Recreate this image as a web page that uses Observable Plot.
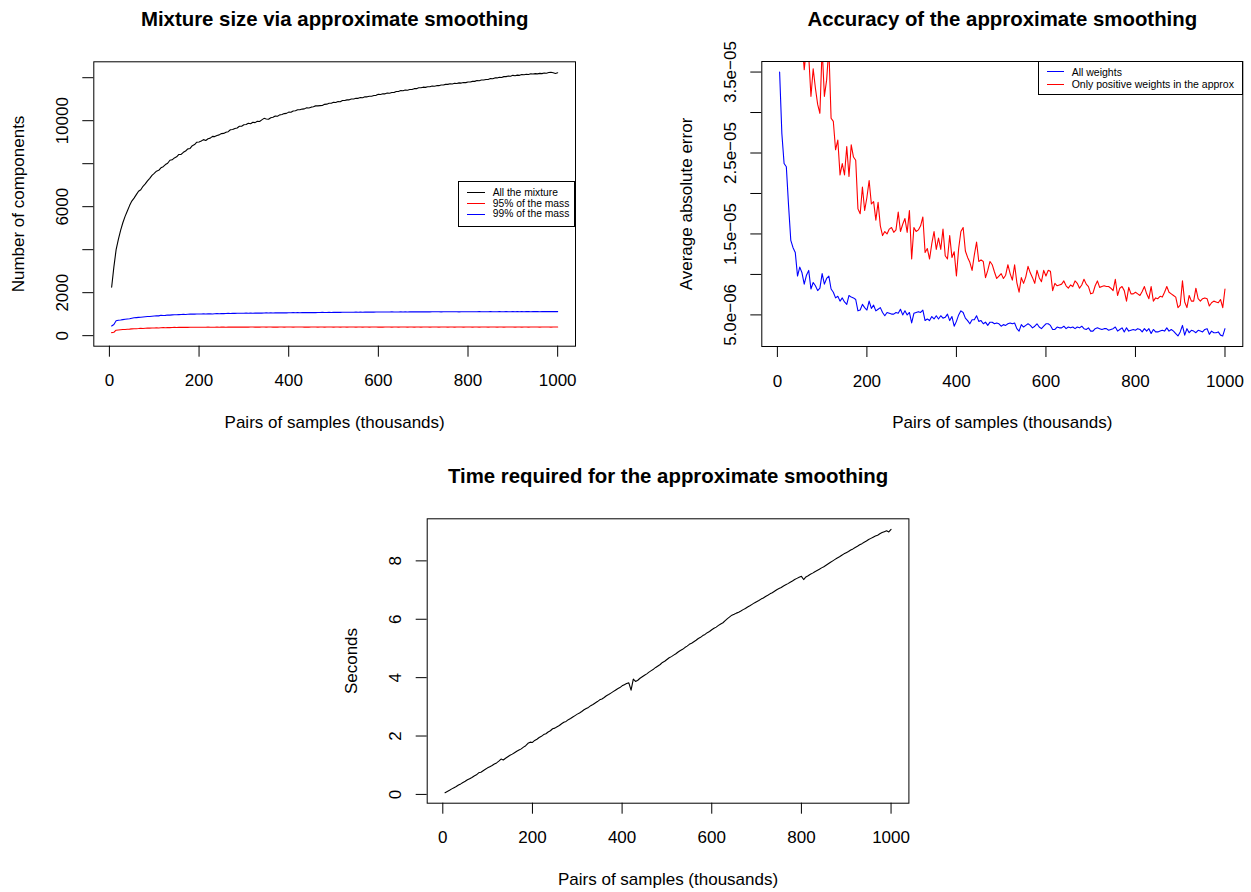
<!DOCTYPE html>
<html>
<head>
<meta charset="utf-8">
<script src="https://cdn.jsdelivr.net/npm/d3@7"></script>
<script src="https://cdn.jsdelivr.net/npm/@observablehq/plot@0.6"></script>
<style>
  html, body { margin: 0; padding: 0; background: #fff; }
  #root { position: relative; width: 1251px; height: 892px; overflow: hidden; font-family: "Liberation Sans", Arial, Helvetica, sans-serif; }
  #root > .panel { position: absolute; }
  .legend { position: absolute; box-sizing: border-box; border: 1px solid #000; background: #fff; }
  .legend .sw { position: absolute; height: 0; }
  .legend .lt { position: absolute; line-height: 1; white-space: nowrap; transform: translateY(-50%); color: #000; }
</style>
</head>
<body>
<div id="root"></div>
<script>
// ---------- data ----------
const pairs = [
  5,10,15,20,25,30,35,40,45,50,
  55,60,65,70,75,80,85,90,95,100,
  105,110,115,120,125,130,135,140,145,150,
  155,160,165,170,175,180,185,190,195,200,
  205,210,215,220,225,230,235,240,245,250,
  255,260,265,270,275,280,285,290,295,300,
  305,310,315,320,325,330,335,340,345,350,
  355,360,365,370,375,380,385,390,395,400,
  405,410,415,420,425,430,435,440,445,450,
  455,460,465,470,475,480,485,490,495,500,
  505,510,515,520,525,530,535,540,545,550,
  555,560,565,570,575,580,585,590,595,600,
  605,610,615,620,625,630,635,640,645,650,
  655,660,665,670,675,680,685,690,695,700,
  705,710,715,720,725,730,735,740,745,750,
  755,760,765,770,775,780,785,790,795,800,
  805,810,815,820,825,830,835,840,845,850,
  855,860,865,870,875,880,885,890,895,900,
  905,910,915,920,925,930,935,940,945,950,
  955,960,965,970,975,980,985,990,995,1000
];

// Panel 1: number of components
const mixtureAll = [
  2250,3200,4000,4480,4900,5254,5550,5800,6050,6260,
  6400,6560,6720,6790,6950,7060,7200,7320,7460,7550,
  7650,7690,7810,7860,7960,8020,8160,8180,8270,8320,
  8430,8430,8530,8590,8690,8710,8840,8890,9000,9010,
  9060,9120,9080,9160,9190,9270,9260,9310,9340,9400,
  9410,9460,9490,9580,9590,9640,9660,9740,9740,9810,
  9820,9880,9860,9930,9910,9970,9960,10040,10110,10080,
  10070,10140,10160,10220,10210,10270,10290,10330,10340,10400,
  10390,10450,10460,10510,10510,10540,10550,10600,10590,10630,
  10650,10690,10690,10700,10710,10760,10770,10810,10810,10860,
  10850,10890,10880,10940,10940,10970,10970,11010,11010,11040,
  11040,11080,11070,11110,11110,11140,11140,11170,11180,11230,
  11220,11250,11250,11290,11280,11310,11310,11360,11360,11400,
  11390,11430,11420,11450,11450,11490,11490,11530,11530,11560,
  11550,11580,11580,11610,11600,11630,11630,11660,11660,11690,
  11690,11720,11710,11740,11730,11760,11750,11780,11770,11800,
  11800,11830,11830,11870,11860,11890,11890,11920,11920,11960,
  11950,11990,11990,12020,12010,12050,12050,12080,12070,12110,
  12090,12120,12110,12150,12140,12160,12150,12180,12170,12190,
  12180,12200,12190,12220,12210,12240,12250,12230,12200,12230
];
const mass95 = [
  140,160,255,265,275,285,290,300,305,315,
  320,325,330,340,335,345,350,350,355,360,
  365,360,370,375,370,380,375,380,385,380,
  385,390,385,390,385,390,395,390,395,390,
  395,390,395,400,395,390,395,400,395,400,
  398,395,400,397,402,398,400,396,401,399,
  402,398,400,404,399,401,397,403,400,398,
  401,404,399,402,398,400,403,399,401,404,
  400,398,402,405,400,401,398,403,399,402,
  404,400,398,402,401,399,403,400,402,398,
  401,403,399,400,402,398,401,404,400,399,
  402,400,398,403,401,399,402,400,403,399,
  401,398,402,400,404,399,401,402,398,400,
  403,401,399,402,400,398,401,403,399,402,
  400,401,398,402,404,400,399,401,403,400,
  398,402,401,399,403,400,402,398,401,404,
  400,399,402,401,398,403,400,402,399,401,
  403,400,398,402,401,399,402,404,400,401,
  399,402,400,398,403,401,399,402,400,403,
  401,398,402,400,401,404,399,401,402,401
];
const mass99 = [
  450,520,690,720,730,745,760,775,790,810,
  830,840,850,860,870,880,890,895,905,915,
  925,920,950,935,945,960,955,965,975,970,
  980,985,990,985,995,1000,1005,1000,1010,1005,
  1010,1015,1010,1020,1015,1005,1020,1025,1020,1030,
  1025,1030,1035,1030,1040,1035,1040,1045,1040,1045,
  1048,1042,1050,1046,1052,1048,1055,1050,1053,1058,
  1054,1060,1056,1062,1058,1064,1060,1066,1062,1068,
  1064,1070,1066,1072,1068,1070,1074,1070,1076,1072,
  1078,1074,1080,1076,1082,1078,1080,1084,1080,1086,
  1082,1088,1084,1086,1090,1086,1092,1088,1090,1094,
  1090,1096,1092,1094,1098,1094,1100,1096,1098,1102,
  1098,1100,1104,1100,1102,1106,1102,1104,1100,1106,
  1104,1108,1104,1106,1110,1106,1108,1112,1108,1110,
  1106,1112,1108,1110,1114,1110,1112,1108,1114,1110,
  1112,1116,1112,1110,1114,1108,1112,1116,1112,1114,
  1110,1116,1112,1114,1118,1114,1112,1116,1114,1118,
  1114,1116,1112,1118,1114,1116,1120,1116,1114,1118,
  1116,1120,1116,1118,1114,1120,1118,1116,1120,1118,
  1120,1116,1122,1118,1120,1124,1120,1118,1122,1120
];

// Panel 2: average absolute error, in units of 1e-6
const errAll = [
  35.0,27.4,23.7,23.3,18.5,14.2,13.3,12.7,9.8,10.9,
  10.2,8.8,9.9,10.5,8.2,9.0,8.6,8.0,8.3,10.1,
  8.8,9.5,9.8,8.2,7.8,7.1,7.3,6.7,7.1,6.6,
  6.3,7.4,7.2,7.1,6.9,5.5,5.6,6.3,5.9,5.6,
  6.7,5.8,6.2,5.5,5.7,5.9,5.3,4.9,5.3,5.2,
  5.1,5.1,5.3,5.2,5.7,5.0,5.5,5.0,5.3,4.0,
  5.2,5.3,5.4,5.3,5.6,4.3,4.5,4.3,4.8,4.5,
  4.9,4.5,4.9,4.6,4.7,5.1,4.3,4.8,3.6,4.2,
  5.0,5.5,5.3,4.6,4.3,3.9,4.4,4.4,4.9,4.2,
  4.3,3.9,4.1,3.7,4.1,4.1,3.9,4.0,3.9,3.6,
  3.8,3.7,3.9,4.0,3.9,4.0,3.3,3.0,3.8,3.5,
  3.7,3.9,3.7,3.4,3.6,3.9,3.5,3.3,3.6,3.9,
  3.9,3.7,3.2,3.2,3.5,3.4,3.4,3.6,3.3,3.5,
  3.4,3.5,3.3,3.5,3.4,3.6,3.3,3.2,3.4,3.0,
  3.0,3.3,3.4,3.3,3.2,3.3,3.3,3.1,3.2,3.3,
  3.5,3.0,3.2,3.4,2.9,3.4,3.0,3.1,3.2,3.1,
  3.3,3.2,2.9,3.3,3.0,3.3,2.7,3.2,2.9,2.9,
  3.0,3.1,3.0,3.4,3.0,3.2,3.0,2.7,2.4,2.9,
  3.7,2.5,3.3,2.8,3.1,3.0,2.8,3.1,3.0,2.9,
  3.2,3.3,2.6,3.0,2.8,2.8,2.9,2.5,2.4,3.3
];
const errPositive = [
  80,70,62,58,55,50,48,45,43,41,
  39,35.3,38,37,32.0,35.4,33,31,29.9,38,
  32.0,34,38,29.3,28.9,25.4,26.6,22.3,23.7,22.3,
  25.8,22.1,26.0,24.5,24.1,18.1,17.5,20.8,17.9,19.5,
  21.6,18.7,19.0,16.7,18.9,16.0,14.8,15.3,15.0,15.6,
  15.8,15.2,15.5,17.7,15.3,16.2,16.9,15.2,17.9,11.9,
  15.8,15.3,15.5,16.0,17.1,12.7,13.2,11.9,13.8,15.3,
  13.1,14.5,13.1,15.6,12.3,11.9,14.8,12.1,12.8,9.8,
  13.2,15.3,15.8,12.9,12.1,11.5,10.5,12.4,14.0,11.6,
  11.8,11.6,9.6,10.5,11.6,11.2,10.3,9.5,9.8,10.1,
  9.5,9.9,11.2,10.1,9.3,11.2,9.0,7.8,9.6,8.9,
  9.7,11.0,10.2,9.6,8.9,10.5,9.6,9.1,10.5,9.8,
  10.5,10.4,8.0,8.9,8.6,8.7,8.8,9.2,8.6,8.3,
  8.7,8.5,9.2,8.9,8.3,8.7,9.4,8.8,8.5,7.6,
  7.7,8.6,9.2,8.4,8.5,8.6,8.5,8.5,8.3,8.0,
  9.4,7.4,8.3,8.5,8.0,6.7,8.4,7.6,7.6,7.8,
  7.6,7.4,7.9,8.5,7.6,7.0,8.5,6.7,7.1,7.0,
  7.3,7.2,7.8,8.5,7.8,7.6,7.4,7.2,5.9,6.2,
  9.2,6.6,5.9,7.4,6.7,6.7,8.3,7.0,6.7,7.0,
  7.1,7.0,6.1,6.5,6.7,6.6,6.5,6.9,5.9,8.2
];

// Panel 3: seconds
const seconds = [
  0.06,0.10,0.14,0.19,0.23,0.27,0.32,0.36,0.41,0.45,
  0.50,0.54,0.58,0.63,0.67,0.74,0.76,0.81,0.86,0.91,
  0.95,0.99,1.04,1.08,1.14,1.21,1.18,1.24,1.29,1.34,
  1.38,1.43,1.48,1.52,1.56,1.62,1.67,1.75,1.79,1.78,
  1.85,1.89,1.95,1.99,2.05,2.08,2.14,2.18,2.25,2.27,
  2.32,2.36,2.42,2.47,2.50,2.56,2.60,2.65,2.70,2.75,
  2.79,2.84,2.90,2.94,2.98,3.04,3.08,3.13,3.18,3.24,
  3.27,3.32,3.38,3.42,3.47,3.52,3.57,3.62,3.66,3.72,
  3.76,3.80,3.82,3.57,3.95,3.87,3.91,3.98,4.03,4.08,
  4.13,4.19,4.24,4.29,4.35,4.40,4.45,4.52,4.56,4.62,
  4.68,4.72,4.77,4.82,4.88,4.93,4.97,5.03,5.08,5.14,
  5.18,5.23,5.28,5.34,5.38,5.44,5.48,5.54,5.58,5.64,
  5.69,5.73,5.79,5.84,5.88,5.95,6.02,6.08,6.14,6.17,
  6.21,6.24,6.28,6.33,6.37,6.42,6.46,6.51,6.56,6.60,
  6.64,6.69,6.73,6.78,6.82,6.87,6.91,6.96,7.01,7.05,
  7.09,7.14,7.18,7.22,7.27,7.31,7.36,7.40,7.44,7.47,
  7.36,7.45,7.49,7.54,7.58,7.63,7.67,7.71,7.76,7.80,
  7.85,7.90,7.95,8.00,8.05,8.10,8.14,8.19,8.24,8.28,
  8.32,8.37,8.41,8.46,8.50,8.55,8.59,8.64,8.68,8.73,
  8.77,8.81,8.85,8.88,8.93,8.97,9.00,9.03,8.99,9.08
];

// ticks and labels
const xTicks = [0, 200, 400, 600, 800, 1000];
const xTickLabels = ["0", "200", "400", "600", "800", "1000"];
const y1Ticks = [0, 2000, 4000, 6000, 8000, 10000, 12000];
const y1TickLabels = ["0", "2000", "", "6000", "", "10000", ""];
const y2Ticks = [5, 10, 15, 20, 25, 30, 35];
const y2TickLabels = ["5.0e\u221206", "", "1.5e\u221205", "", "2.5e\u221205", "", "3.5e\u221205"];
const y3Ticks = [0, 2, 4, 6, 8];
const y3TickLabels = ["0", "2", "4", "6", "8"];

const titles = ["Mixture size via approximate smoothing", "Accuracy of the approximate smoothing", "Time required for the approximate smoothing"];
const xLabel = "Pairs of samples (thousands)";
const yLabels = ["Number of components", "Average absolute error", "Seconds"];
const legend1 = [["All the mixture", "#000000"], ["95% of the mass", "#FF0000"], ["99% of the mass", "#0000FF"]];
const legend2 = [["All weights", "#0000FF"], ["Only positive weights in the approx", "#FF0000"]];

// ---------- helpers ----------
const FONT = "'Liberation Sans', Arial, Helvetica, sans-serif";
const pad4 = (lo, hi) => [lo - 0.04 * (hi - lo), hi + 0.04 * (hi - lo)];
const xDomain = pad4(d3.min(pairs), d3.max(pairs));

function panel({width, height, margins, yDomain, yTicks, yTickLabels, title, ylab, lines}) {
  const [mt, mr, mb, ml] = margins;
  return Plot.plot({
    width, height,
    marginTop: mt, marginRight: mr, marginBottom: mb, marginLeft: ml,
    style: {fontFamily: FONT, fontSize: "17px", color: "#000", background: "transparent", overflow: "visible"},
    x: {domain: xDomain},
    y: {domain: yDomain},
    marks: [
      ...lines,
      Plot.frame({stroke: "#000", strokeWidth: 1}),
      Plot.axisX({ticks: xTicks, tickFormat: (d) => xTickLabels[xTicks.indexOf(d)], tickSize: 11, tickPadding: 17.2, fontSize: 17, label: null, stroke: "#000"}),
      Plot.axisY({ticks: yTicks, tickFormat: (d) => yTickLabels[yTicks.indexOf(d)], tickSize: 11, tickPadding: 15, tickRotate: -90, fontSize: 17, label: null, stroke: "#000"}),
      Plot.text([title], {frameAnchor: "top", dy: -35.8, lineAnchor: "bottom", textAnchor: "middle", fontWeight: "bold", fontSize: 20.4, fill: "#000"}),
      Plot.text([xLabel], {frameAnchor: "bottom", dy: 81.7, lineAnchor: "bottom", textAnchor: "middle", fontSize: 17, fill: "#000"}),
      Plot.text([ylab], {frameAnchor: "left", dx: -70, rotate: -90, lineAnchor: "bottom", textAnchor: "middle", fontSize: 17, fill: "#000"})
    ]
  });
}

function place(node, left, top) {
  node.classList.add("panel");
  node.style.left = left + "px";
  node.style.top = top + "px";
  document.getElementById("root").appendChild(node);
}

function legend(items, {left, top, width, height, rows, lineLeft, lineWidth, textLeft, fontSize}) {
  const box = document.createElement("div");
  box.className = "legend";
  Object.assign(box.style, {left: left + "px", top: top + "px", width: width + "px", height: height + "px"});
  items.forEach(([label, color], i) => {
    const sw = document.createElement("div");
    sw.className = "sw";
    Object.assign(sw.style, {left: (lineLeft - 1) + "px", top: (rows[i] - 1.5) + "px", width: lineWidth + "px", borderTop: `1px solid ${color}`});
    const t = document.createElement("div");
    t.className = "lt";
    t.textContent = label;
    Object.assign(t.style, {left: (textLeft - 1) + "px", top: (rows[i] - 1) + "px", fontSize: fontSize + "px"});
    box.appendChild(sw);
    box.appendChild(t);
  });
  document.getElementById("root").appendChild(box);
}

// ---------- panel 1 ----------
place(panel({
  width: 625, height: 446, margins: [61.3, 50, 100.3, 93.3],
  yDomain: pad4(0, d3.max(mixtureAll)),
  yTicks: y1Ticks, yTickLabels: y1TickLabels,
  title: titles[0], ylab: yLabels[0],
  lines: [
    Plot.lineY(mixtureAll, {x: pairs, stroke: "#000", strokeWidth: 1.1}),
    Plot.lineY(mass95, {x: pairs, stroke: "#FF0000", strokeWidth: 1.1}),
    Plot.lineY(mass99, {x: pairs, stroke: "#0000FF", strokeWidth: 1.1})
  ]
}), 0, 0);

// ---------- panel 2 ----------
place(panel({
  width: 626, height: 446, margins: [61, 8.7, 100, 136.3],
  yDomain: pad4(d3.min(errAll), d3.max(errAll)),
  yTicks: y2Ticks, yTickLabels: y2TickLabels,
  title: titles[1], ylab: yLabels[1],
  lines: [
    Plot.lineY(errAll, {x: pairs, stroke: "#0000FF", strokeWidth: 1.1, clip: true}),
    Plot.lineY(errPositive, {x: pairs, stroke: "#FF0000", strokeWidth: 1.1, clip: true})
  ]
}), 625, 0);

// ---------- panel 3 ----------
place(panel({
  width: 1251, height: 446, margins: [72.3, 342.6, 89.3, 426.7],
  yDomain: pad4(d3.min(seconds), d3.max(seconds)),
  yTicks: y3Ticks, yTickLabels: y3TickLabels,
  title: titles[2], ylab: yLabels[2],
  lines: [
    Plot.lineY(seconds, {x: pairs, stroke: "#000", strokeWidth: 1.1})
  ]
}), 0, 446);

// ---------- legends ----------
legend(legend1, {left: 458.3, top: 181, width: 117.2, height: 45.7, rows: [11.7, 22.7, 33.3], lineLeft: 8.4, lineWidth: 18.3, textLeft: 34.4, fontSize: 10.3});
legend(legend2, {left: 1038.3, top: 60.7, width: 204.5, height: 34.3, rows: [11, 23.6], lineLeft: 8.4, lineWidth: 17.6, textLeft: 33.4, fontSize: 10.5});
</script>
</body>
</html>
